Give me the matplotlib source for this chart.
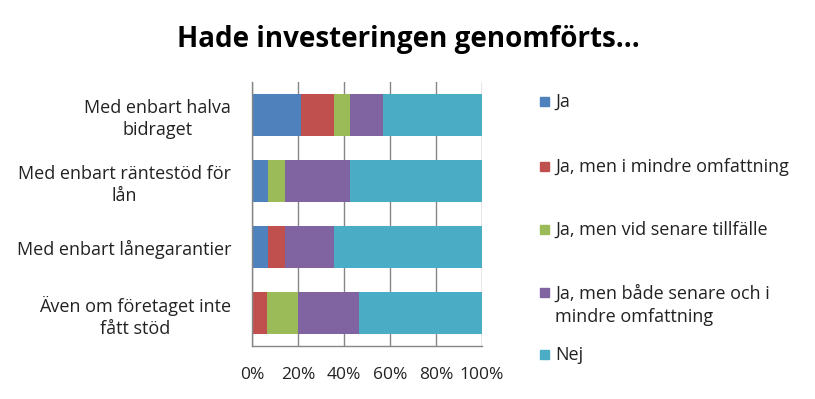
import numpy as np
import matplotlib.pyplot as plt
from matplotlib.patches import Rectangle

# ----------------------------
# Data (share of answers, %)
# ----------------------------
categories = [
    "Med enbart halva\nbidraget",
    "Med enbart räntestöd för\nlån",
    "Med enbart lånegarantier",
    "Även om företaget inte\nfått stöd",
]
series_names = [
    "Ja",
    "Ja, men i mindre omfattning",
    "Ja, men vid senare tillfälle",
    "Ja, men både senare och i\nmindre omfattning",
    "Nej",
]
ja = [21.4, 7.1, 7.1, 0.0]
ja_mindre = [14.3, 0.0, 7.1, 6.7]
ja_senare = [7.1, 7.1, 0.0, 13.3]
ja_bada = [14.3, 28.6, 21.4, 26.7]
nej = [42.9, 57.1, 64.3, 53.3]
xtick_labels = ["0%", "20%", "40%", "60%", "80%", "100%"]

colors = ["#4F81BD", "#C0504D", "#9BBB59", "#8064A2", "#4BACC6"]

plt.rcParams["font.family"] = ["Open Sans", "DejaVu Sans"]
FS = 13.0

W, H = 815, 399
fig = plt.figure(figsize=(W / 100, H / 100), dpi=100)
ax = fig.add_axes([252 / W, (H - 346) / H, 230 / W, 264 / H])

values = [ja, ja_mindre, ja_senare, ja_bada, nej]
y = np.arange(len(categories))
left = np.zeros(len(categories))
for vals, c, name in zip(values, colors, series_names):
    ax.barh(y, vals, left=left, height=0.65, color=c, label=name, zorder=2)
    left += np.array(vals)

ax.set_ylim(len(categories) - 0.5, -0.5)
ax.set_xlim(0, 100)
ax.set_xticks(np.arange(0, 101, 20))
ax.set_xticklabels(xtick_labels, fontsize=12.5, color="#222222")
ax.set_yticks(y)
ax.set_yticklabels(categories, fontsize=FS, color="#222222", multialignment="center",
                   linespacing=1.25)
ax.tick_params(axis="x", length=0, pad=15)
ax.tick_params(axis="y", length=0, pad=15)
ax.grid(axis="x", color="#868686", linewidth=1.0, zorder=0)
for s in ["top", "right"]:
    ax.spines[s].set_visible(False)
for s in ["left", "bottom"]:
    ax.spines[s].set_color("#868686")
    ax.spines[s].set_linewidth(1.0)

fig.text(408 / W, 1 - 40 / H, "Hade investeringen genomförts...", ha="center", va="center",
         fontsize=20, fontweight="bold", color="black")

# legend, placed by hand to follow the original layout
legend_y = [102, 167, 230, 305, 355]
for name, c, ly in zip(series_names, colors, legend_y):
    first_line = ly - 12.5 if "\n" in name else ly
    fig.patches.append(Rectangle((540 / W, 1 - (first_line + 4) / H), 9 / W, 9 / H,
                                 transform=fig.transFigure, color=c))
    fig.text(555 / W, 1 - ly / H, name, ha="left", va="center", fontsize=FS,
             color="#222222", linespacing=1.35)

fig.savefig("out.png", dpi=100)
